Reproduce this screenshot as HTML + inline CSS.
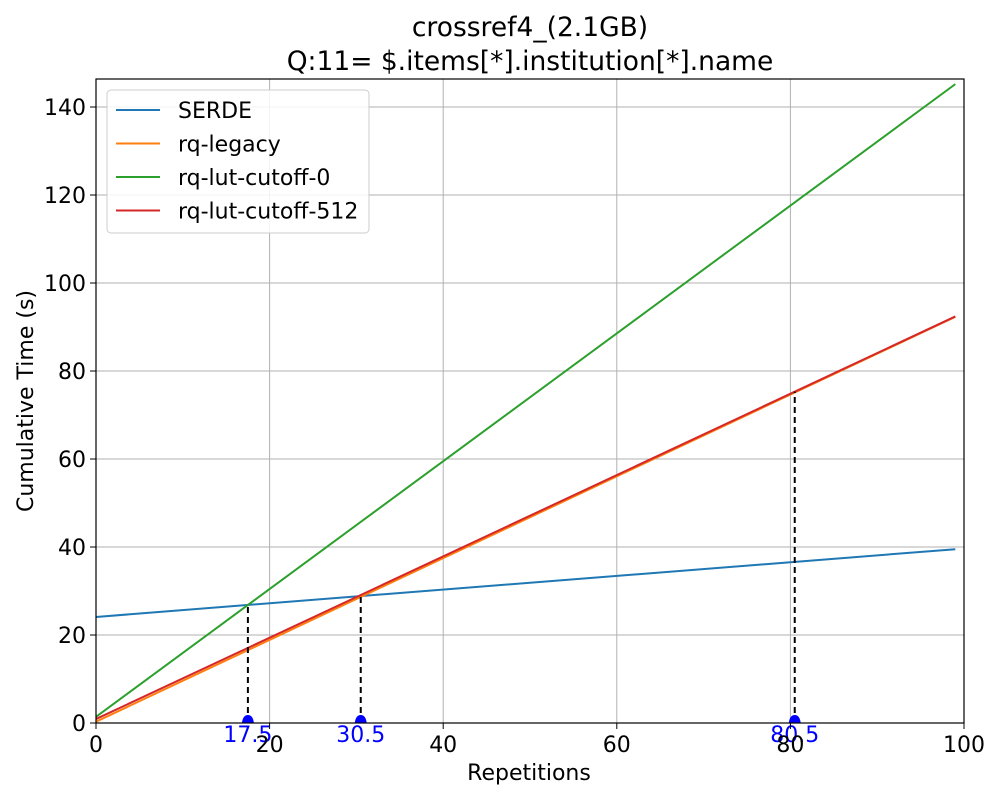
<!DOCTYPE html>
<html><head><meta charset="utf-8"><style>
body{margin:0;background:#fff}
text{font-family:"DejaVu Sans","Liberation Sans",sans-serif}
</style></head><body>
<svg id="chart" width="1000" height="800" xmlns="http://www.w3.org/2000/svg">
<defs><clipPath id="clip"><rect x="96" y="79" width="868" height="644"/></clipPath></defs>
<rect x="0" y="0" width="1000" height="800" fill="#fff"/>
<text x="530" y="36" font-size="26.5" text-anchor="middle">crossref4_(2.1GB)</text>
<text x="530" y="70" font-size="26.5" text-anchor="middle">Q:11= $.items[*].institution[*].name</text>
<g id="grid"></g>
<g id="series" clip-path="url(#clip)"></g>
<g id="annot"></g>
<rect x="96" y="79" width="868" height="644" fill="none" stroke="#000" stroke-width="1.2"/>
<g id="ticks"></g>
<text x="529" y="780" font-size="22" text-anchor="middle">Repetitions</text>
<text transform="translate(33,401) rotate(-90)" font-size="22" text-anchor="middle">Cumulative Time (s)</text>
<g>
<rect x="107" y="90" width="262" height="143" rx="4" fill="#fff" fill-opacity="0.85" stroke="#ccc"/>
<g id="legend"></g>
</g>
</svg>
<script>
const seriesNames=["SERDE","rq-legacy","rq-lut-cutoff-0","rq-lut-cutoff-512"];
const seriesColors=["#1f77b4","#ff7f0e","#2ca02c","#d62728"];
const xVals=[0,99];
const serde=[24.1,39.5];
const legacy=[0.3,92.3];
const lut0=[1.4,145.2];
const lut512=[0.9,92.4];
const crossX=[17.5,30.5,80.5];
const crossY=[26.8,28.7,75.3];
const crossLabels=["17.5","30.5","80.5"];
const xTicks=[0,20,40,60,80,100];
const yTicks=[0,20,40,60,80,100,120,140];
const NS="http://www.w3.org/2000/svg";
const X=v=>96+v*8.68;
const Y=v=>723-v*4.4;
function mk(tag,attrs,parent){const e=document.createElementNS(NS,tag);for(const k in attrs)e.setAttribute(k,attrs[k]);document.getElementById(parent).appendChild(e);return e;}
xTicks.forEach(t=>{
  const g=mk('line',{x1:X(t),x2:X(t),y1:79,y2:723,stroke:'#b0b0b0','stroke-width':1},'grid');
  
  
  const tk=mk('line',{x1:X(t),x2:X(t),y1:723,y2:729,stroke:'#000'},'ticks');
  
  
  const l=mk('text',{x:X(t),y:752,'font-size':22,'text-anchor':'middle'},'ticks');l.textContent=t;
  
  
});
yTicks.forEach(t=>{
  const g=mk('line',{x1:96,x2:964,y1:Y(t),y2:Y(t),stroke:'#b0b0b0','stroke-width':1},'grid');
  
  
  const tk=mk('line',{x1:90,x2:96,y1:Y(t),y2:Y(t),stroke:'#000'},'ticks');
  
  
  const l=mk('text',{x:86,y:Y(t)+8,'font-size':22,'text-anchor':'end'},'ticks');l.textContent=t;
  
  
});
[serde,legacy,lut0,lut512].forEach((s,i)=>{
  const p=mk('polyline',{points:s.map((v,j)=>X(xVals[j])+','+Y(v)).join(' '),fill:'none',stroke:seriesColors[i],'stroke-width':2},'series');
  
  
  const ly=110+i*33.5;
  const ll=mk('line',{x1:116,x2:160,y1:ly,y2:ly,stroke:seriesColors[i],'stroke-width':2},'legend');
  
  
  const lt=mk('text',{x:178,y:ly+8,'font-size':22},'legend');lt.textContent=seriesNames[i];
  
  
});
crossX.forEach((cx,i)=>{
  const d=mk('line',{x1:X(cx),x2:X(cx),y1:Y(0),y2:Y(crossY[i]),stroke:'#000','stroke-width':2,'stroke-dasharray':'6,4'},'annot');
  
  
  const m=mk('path',{d:`M${X(cx)-6},${Y(0)} Q${X(cx)-5},${Y(0)-8} ${X(cx)},${Y(0)-8} Q${X(cx)+5},${Y(0)-8} ${X(cx)+6},${Y(0)} Z`,fill:'blue'},'annot');
  
  
  const t=mk('text',{x:X(cx),y:742,'font-size':22,'text-anchor':'middle',fill:'blue'},'annot');t.textContent=crossLabels[i];
  
  
});
</script>
</body></html>
